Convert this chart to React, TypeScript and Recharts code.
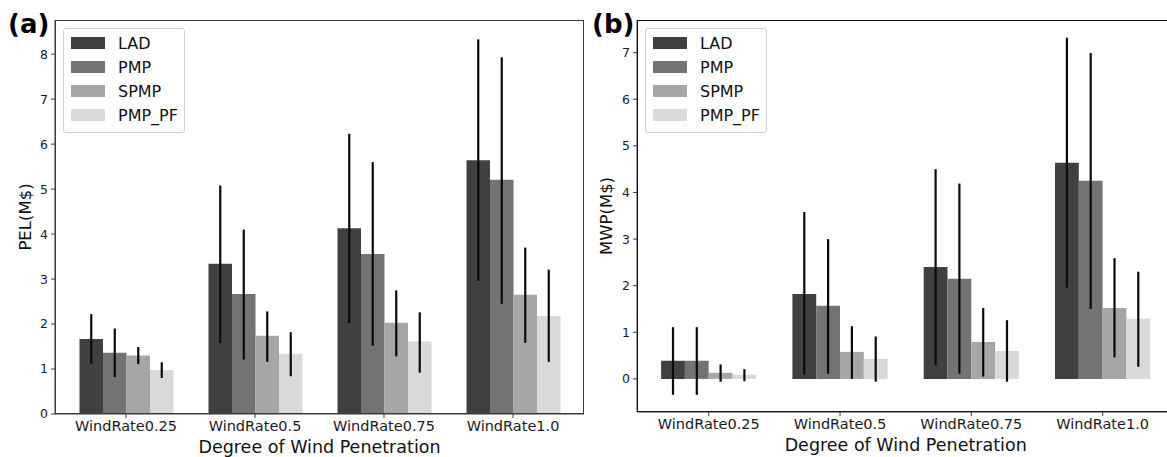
import { BarChart, Bar, XAxis, YAxis, ErrorBar, Legend, Label } from 'recharts';

const categories = ['WindRate0.25', 'WindRate0.5', 'WindRate0.75', 'WindRate1.0'];
const seriesNames = ['LAD', 'PMP', 'SPMP', 'PMP_PF'];
const COLORS = ['#404040', '#737373', '#a6a6a6', '#d9d9d9'];

// (a) PEL(M$): bar height, error bar low / high
const pelLAD = [1.67, 3.34, 4.13, 5.64];
const pelLADLo = [1.12, 1.58, 2.02, 2.96];
const pelLADHi = [2.22, 5.08, 6.23, 8.33];
const pelPMP = [1.36, 2.67, 3.56, 5.21];
const pelPMPLo = [0.82, 1.21, 1.52, 2.45];
const pelPMPHi = [1.9, 4.1, 5.6, 7.93];
const pelSPMP = [1.3, 1.74, 2.03, 2.65];
const pelSPMPLo = [1.11, 1.16, 1.28, 1.58];
const pelSPMPHi = [1.49, 2.28, 2.75, 3.7];
const pelPF = [0.98, 1.34, 1.61, 2.18];
const pelPFLo = [0.8, 0.84, 0.92, 1.16];
const pelPFHi = [1.15, 1.82, 2.26, 3.21];

// (b) MWP(M$)
const mwpLAD = [0.39, 1.82, 2.4, 4.64];
const mwpLADLo = [-0.34, 0.09, 0.29, 1.96];
const mwpLADHi = [1.11, 3.58, 4.5, 7.32];
const mwpPMP = [0.39, 1.57, 2.15, 4.25];
const mwpPMPLo = [-0.34, 0.11, 0.11, 1.5];
const mwpPMPHi = [1.11, 3.0, 4.19, 6.99];
const mwpSPMP = [0.13, 0.58, 0.79, 1.52];
const mwpSPMPLo = [-0.06, 0.0, 0.05, 0.46];
const mwpSPMPHi = [0.31, 1.13, 1.52, 2.59];
const mwpPF = [0.09, 0.43, 0.6, 1.29];
const mwpPFLo = [-0.05, -0.06, -0.06, 0.26];
const mwpPFHi = [0.21, 0.91, 1.26, 2.3];

const pelTicks = [0, 1, 2, 3, 4, 5, 6, 7, 8];
const mwpTicks = [0, 1, 2, 3, 4, 5, 6, 7];

type Triple = [number[], number[], number[]];

function buildRows(sets: Triple[]) {
  return categories.map((name, i) => {
    const row: Record<string, any> = { name };
    sets.forEach(([mean, lo, hi], s) => {
      const key = seriesNames[s];
      row[key] = mean[i];
      row[key + '_err'] = [mean[i] - lo[i], hi[i] - mean[i]];
    });
    return row;
  });
}

const pelData = buildRows([
  [pelLAD, pelLADLo, pelLADHi],
  [pelPMP, pelPMPLo, pelPMPHi],
  [pelSPMP, pelSPMPLo, pelSPMPHi],
  [pelPF, pelPFLo, pelPFHi],
]);

const mwpData = buildRows([
  [mwpLAD, mwpLADLo, mwpLADHi],
  [mwpPMP, mwpPMPLo, mwpPMPHi],
  [mwpSPMP, mwpSPMPLo, mwpSPMPHi],
  [mwpPF, mwpPFLo, mwpPFHi],
]);

const FONT = '"DejaVu Sans", sans-serif';

const renderLegend = (props: any) => {
  const payload = [...(props.payload || [])].sort(
    (a: any, b: any) => seriesNames.indexOf(a.value) - seriesNames.indexOf(b.value)
  );
  return (
    <div
      style={{
        width: 122,
        boxSizing: 'border-box',
        border: '1px solid #d0d0d0',
        borderRadius: 3,
        background: 'rgba(255,255,255,0.85)',
        padding: '2px 6px 5px 7px',
        fontFamily: FONT,
        fontSize: 16,
        color: '#111',
      }}
    >
      {payload.map((entry: any) => (
        <div key={entry.value} style={{ display: 'flex', alignItems: 'center', height: 24 }}>
          <span style={{ width: 34, height: 12, background: entry.color, marginRight: 13, display: 'inline-block' }} />
          <span>{entry.value}</span>
        </div>
      ))}
    </div>
  );
};

function Panel({
  data,
  yLabel,
  domain,
  ticks,
  margin,
  xHeight,
  xLabelOffset,
  barSize,
  padding,
  yLabelOffset,
}: {
  data: any[];
  yLabel: string;
  domain: [number, number];
  ticks: number[];
  margin: { top: number; right: number; left: number; bottom: number };
  xHeight: number;
  xLabelOffset: number;
  barSize: number;
  padding: number;
  yLabelOffset: number;
}) {
  return (
    <BarChart width={600} height={457} data={data} margin={margin} barGap={0} barSize={barSize}>
      <XAxis
        dataKey="name"
        height={xHeight}
        padding={{ left: padding, right: padding }}
        tickSize={4}
        tickMargin={3}
        tick={{ fontSize: 14.5, fill: '#1a1a1a', fontFamily: FONT }}
        stroke="#3a3a3a"
        tickLine={{ stroke: '#3a3a3a' }}
      >
        <Label
          value="Degree of Wind Penetration"
          position="insideBottom"
          offset={xLabelOffset}
          style={{ fontSize: 17.5, fill: '#111', fontFamily: FONT }}
        />
      </XAxis>
      <YAxis
        width={55}
        domain={domain}
        ticks={ticks}
        allowDataOverflow
        tickSize={4}
        tickMargin={3}
        tick={{ fontSize: 12.5, fill: '#1a1a1a', fontFamily: FONT }}
        stroke="#3a3a3a"
        tickLine={{ stroke: '#3a3a3a' }}
      >
        <Label
          value={yLabel}
          angle={-90}
          position="insideLeft"
          offset={yLabelOffset}
          style={{ fontSize: 16.5, fill: '#111', fontFamily: FONT, textAnchor: 'middle' }}
        />
      </YAxis>
      <Legend
        layout="vertical"
        align="center"
        verticalAlign="middle"
        content={renderLegend}
        wrapperStyle={{ top: 28, left: 63, width: 'auto' }}
      />
      {seriesNames.map((s, i) => (
        <Bar key={s} dataKey={s} name={s} fill={COLORS[i]} isAnimationActive={false}>
          <ErrorBar dataKey={s + '_err'} width={0} strokeWidth={2.2} stroke="#0a0a0a" direction="y" />
        </Bar>
      ))}
    </BarChart>
  );
}

export default function App() {
  return (
    <div
      style={{
        position: 'absolute',
        left: 0,
        top: 0,
        width: 1167,
        height: 457,
        overflow: 'hidden',
        background: '#fff',
      }}
    >
      <div style={{ position: 'absolute', left: 0, top: 0 }}>
        <Panel
          data={pelData}
          yLabel="PEL(M$)"
          domain={[0, 8.76]}
          ticks={pelTicks}
          margin={{ top: 20, right: 16, left: 0, bottom: 0 }}
          xHeight={43}
          xLabelOffset={4}
          barSize={23.5}
          padding={6.5}
          yLabelOffset={25}
        />
      </div>
      <div style={{ position: 'absolute', left: 582, top: 0 }}>
        <Panel
          data={mwpData}
          yLabel="MWP(M$)"
          domain={[-0.71, 7.7]}
          ticks={mwpTicks}
          margin={{ top: 20, right: 7.6, left: 0, bottom: 0 }}
          xHeight={45}
          xLabelOffset={6.5}
          barSize={23.8}
          padding={6.1}
          yLabelOffset={24}
        />
      </div>
      {/* plot frames (top/right spines) */}
      <div style={{ position: 'absolute', left: 55, top: 20, width: 529, height: 394, border: '1.2px solid #3a3a3a', boxSizing: 'border-box', pointerEvents: 'none' }} />
      <div style={{ position: 'absolute', left: 637, top: 20, width: 540, height: 392, border: '1.2px solid #111', boxSizing: 'border-box', pointerEvents: 'none' }} />
      <div style={{ position: 'absolute', left: 8, top: 11, fontFamily: FONT, fontWeight: 'bold', fontSize: 26, lineHeight: '26px', color: '#000' }}>(a)</div>
      <div style={{ position: 'absolute', left: 592, top: 11, fontFamily: FONT, fontWeight: 'bold', fontSize: 26, lineHeight: '26px', color: '#000' }}>(b)</div>
    </div>
  );
}
